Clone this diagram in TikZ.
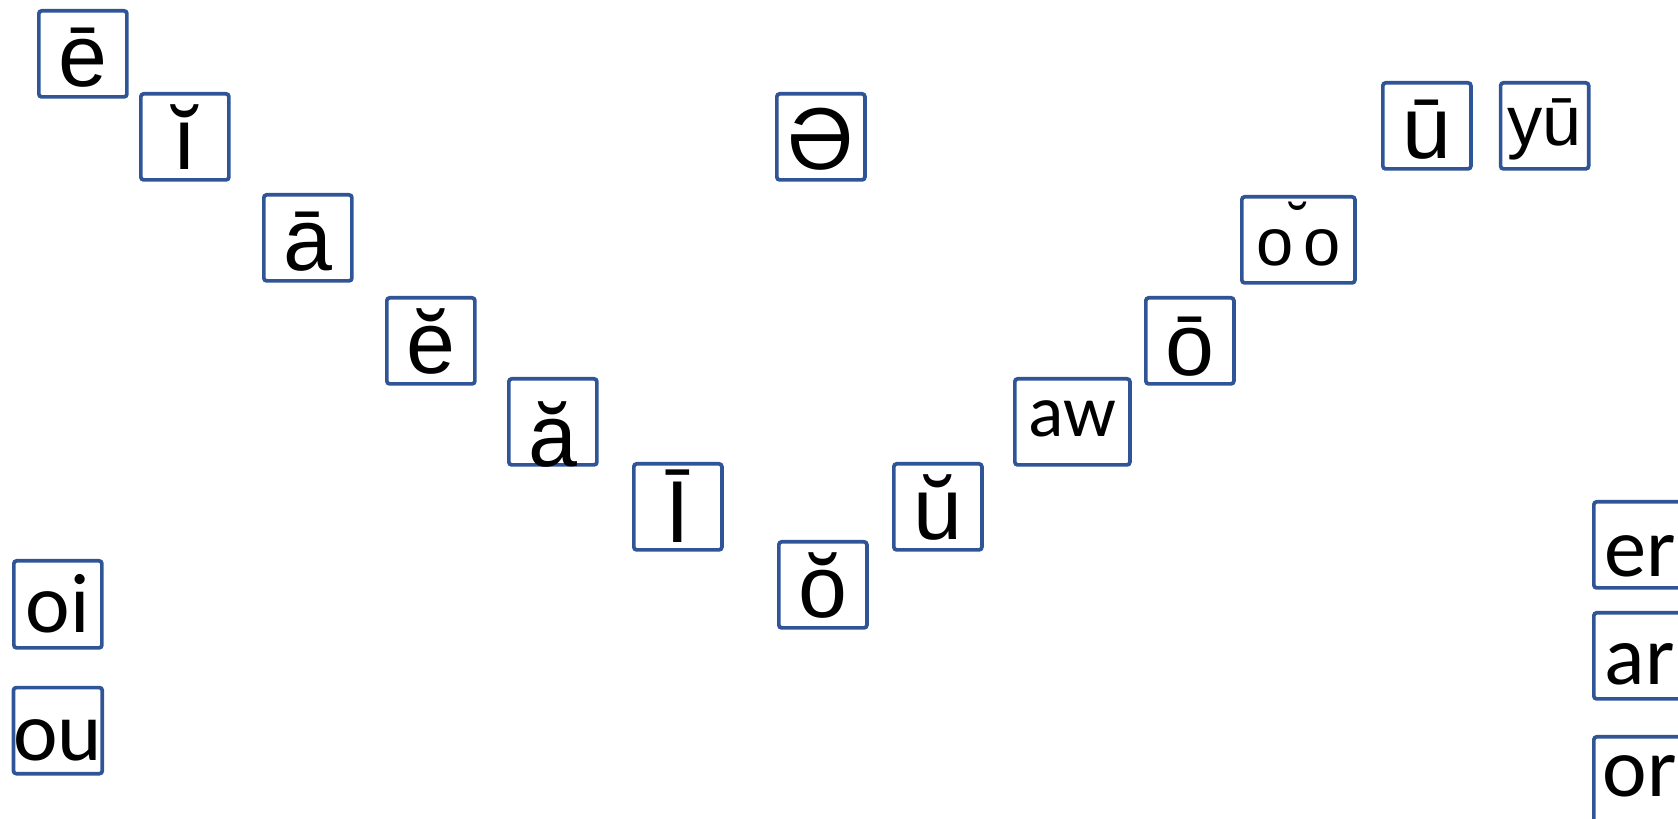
\documentclass[tikz,border=0pt]{standalone}
\usepackage{fontspec}
\setmainfont{Liberation Sans}
\newfontfamily\calfont{Carlito}
\usetikzlibrary{positioning}
\definecolor{boxblue}{HTML}{2F5597}

\begin{document}
\begin{tikzpicture}[x=0.01cm, y=-0.01cm]
    % Define styles
    \tikzstyle{vowel} = [rectangle, rounded corners=0.8pt, draw=boxblue, line width=1.05pt, anchor=north west, inner sep=0pt, minimum width=0.88cm, minimum height=0.86cm, text height=0.76cm, text depth=0.10cm, font=\fontsize{25}{30}\selectfont]
    \tikzstyle{combo} = [vowel, font=\calfont\fontsize{24}{29}\selectfont]

    \useasboundingbox (0,0) rectangle (1678,819);
    \clip (0,0) rectangle (1678,819);

    % Falling row
    \node [vowel] (ebar) at (37,9) {ē};
    \node [vowel] (ibreve) at (139,92) {ĭ};
    \node [vowel] (abar) at (262,193) {ā};
    \node [vowel] (ebreve) at (385,296) {ĕ};
    \node [vowel] (abreve) at (507,377) {\raisebox{-0.12cm}{ă}};
    \node [vowel, text height=0.79cm, text depth=0.07cm] (ibar) at (632,462) {Ī};
    \node [vowel] (obreve) at (777,540) {ŏ};

    % Rising row
    \node [vowel] (ubreve) at (892,462) {ŭ};
    \node [combo, minimum width=1.15cm, font=\calfont\fontsize{21}{25}\selectfont, text height=0.58cm, text depth=0.28cm] (aw) at (1013,377) {aw};
    \node [vowel, text height=0.78cm, text depth=0.08cm] (obar) at (1144,296) {ō};
    \node [vowel, minimum width=1.13cm, font=\fontsize{19}{23}\selectfont, text height=0.69cm, text depth=0.17cm] (oo) at (1240,195) {o\hspace{0.05cm}\makebox[0pt]{\raisebox{0.22cm}{\fontsize{16}{19}\selectfont ˘}}\hspace{0.05cm}o};
    \node [vowel] (ubar) at (1381,81) {ū};
    \node [vowel, right=0.26cm of ubar, font=\fontsize{20}{24}\selectfont, text height=0.63cm, text depth=0.23cm] (yubar) {yū};

    % Schwa
    \node [vowel] (schwa) at (775,92) {Ə};

    % Diphthongs
    \node [combo, text height=0.72cm, text depth=0.15cm] (oi) at (12,559) {oi};
    \node [combo, below=0.36cm of oi, text height=0.73cm, text depth=0.13cm] (ou) {ou};

    % r-coloured
    \node [combo, minimum width=0.92cm, text height=0.75cm, text depth=0.11cm] (er) at (1592,500) {er};
    \node [combo, minimum width=0.92cm, text height=0.72cm, text depth=0.14cm] (ar) at (1592,611) {ar};
    \node [combo, minimum width=0.92cm, text height=0.60cm, text depth=0.26cm] (or) at (1592,735) {or};
\end{tikzpicture}
\end{document}
